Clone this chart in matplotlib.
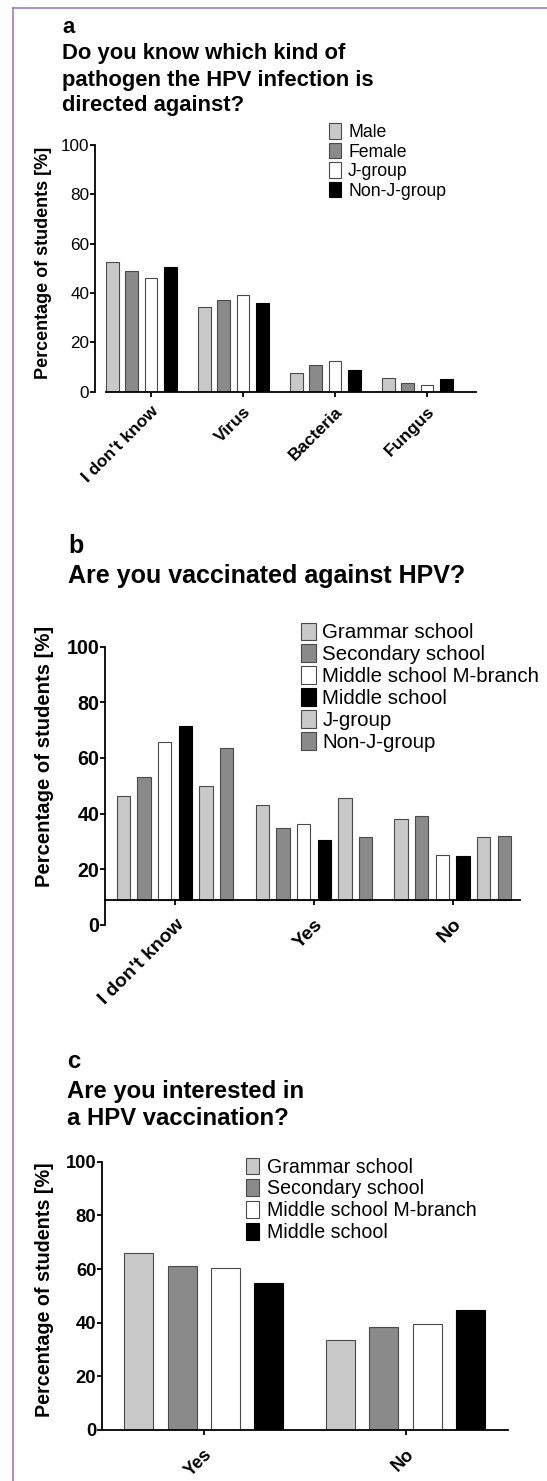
import numpy as np
import matplotlib
matplotlib.use("Agg")
import matplotlib.pyplot as plt
from matplotlib.lines import Line2D

plt.rcParams['font.family'] = ['Liberation Sans', 'DejaVu Sans']

# ---- data (percent of students) ----
a_categories = ["I don't know", "Virus", "Bacteria", "Fungus"]
a_groups = ["Male", "Female", "J-group", "Non-J-group"]
a_male = [52.4, 34.5, 7.7, 5.4]
a_female = [48.8, 37.2, 10.8, 3.4]
a_jgroup = [46.2, 39.2, 12.6, 2.6]
a_nonj = [50.7, 35.8, 8.6, 5.0]

b_categories = ["I don't know", "Yes", "No"]
b_groups = ["Grammar school", "Secondary school", "Middle school M-branch",
            "Middle school", "J-group", "Non-J-group"]
b_grammar = [46.4, 42.9, 37.9]
b_secondary = [53.2, 34.7, 39.0]
b_mbranch = [65.7, 36.1, 25.2]
b_middle = [71.5, 30.5, 24.8]
b_jgroup = [50.0, 45.7, 31.4]
b_nonj = [63.6, 31.4, 32.0]

c_categories = ["Yes", "No"]
c_groups = ["Grammar school", "Secondary school", "Middle school M-branch", "Middle school"]
c_grammar = [65.9, 33.5]
c_secondary = [61.1, 38.5]
c_mbranch = [60.3, 39.5]
c_middle = [54.9, 44.7]

LIGHT = '#c9c9c9'
MID = '#8a8a8a'
EDGE = '#4a4a4a'

W, H = 547, 1481
fig = plt.figure(figsize=(W / 100, H / 100), dpi=100)


def axes_px(left, top, right, bottom):
    return fig.add_axes([left / W, 1 - bottom / H, (right - left) / W, (bottom - top) / H])


def fx(x):
    return x / W


def fy(y):
    return 1 - y / H


def draw_bars(ax, series, labels, colors, step, width, base=0):
    n = len(series)
    x = np.arange(len(series[0]))
    for j, (vals, lab, col) in enumerate(zip(series, labels, colors)):
        off = (j - (n - 1) / 2) * step
        ax.bar(x + off, np.array(vals) - base, width, bottom=base, color=col,
               edgecolor='black' if col == 'black' else EDGE, linewidth=0.8, label=lab)
    return x


def style(ax, fs_tick, fs_x, xpad):
    for s in ['top', 'right']:
        ax.spines[s].set_visible(False)
    for s in ['left', 'bottom']:
        ax.spines[s].set_linewidth(1.3)
    ax.set_ylim(0, 100)
    ax.set_yticks([0, 20, 40, 60, 80, 100])
    ax.tick_params(axis='y', direction='out', length=3.6, width=1.3, pad=0.5,
                   labelsize=fs_tick)
    ax.tick_params(axis='x', direction='out', length=3.6, width=1.3, pad=xpad,
                   labelsize=fs_x)
    for t in ax.get_yticklabels():
        t.set_fontweight('bold')


def xlabels(ax, ticks, cats):
    ax.set_xticks(ticks)
    ax.set_xticklabels(cats, rotation=45, ha='right', rotation_mode='anchor',
                       fontweight='bold')


def legend(ax, x, y, fs, hl, hh, tp, ls):
    ax.legend(loc='upper left', bbox_to_anchor=(fx(x), fy(y)),
              bbox_transform=fig.transFigure, frameon=False, borderpad=0,
              borderaxespad=0, fontsize=fs, handlelength=hl, handleheight=hh,
              handletextpad=tp, labelspacing=ls)


def title(x, baselines, lines, fs):
    for b, t in zip(baselines, lines):
        fig.text(fx(x), fy(b), t, fontsize=fs, fontweight='bold', va='baseline', ha='left')


# ---- panel a ----
ax = axes_px(106, 145, 476, 391.7)
x = draw_bars(ax, [a_male, a_female, a_jgroup, a_nonj], a_groups,
              [LIGHT, MID, 'white', 'black'], 0.211, 0.137)
ax.set_xlim(-0.385, 3.637)
style(ax, 12.3, 12.5, 5)
ax.spines['left'].set_position(('outward', 7.9))
xlabels(ax, x + 0.1, a_categories)
legend(ax, 329, 123.5, 12.7, 0.68, 0.98, 0.4, 0.09)
fig.text(fx(62), fy(33.3), "a", fontsize=15.8, fontweight='bold', va='baseline')
title(62, [59.5, 85.8, 111.5], ["Do you know which kind of",
                                 "pathogen the HPV infection is",
                                 "directed against?"], 15.8)
fig.text(fx(43.5), fy(262.5), "Percentage of students [%]", rotation=90,
         fontsize=13, fontweight='bold', ha='center', va='center')

# ---- panel b ----
ax = axes_px(105, 646.7, 520, 924.7)
x = draw_bars(ax, [b_grammar, b_secondary, b_mbranch, b_middle, b_jgroup, b_nonj],
              b_groups, [LIGHT, MID, 'white', 'black', LIGHT, MID], 0.149, 0.096, base=9)
ax.set_xlim(-0.505, 2.485)
style(ax, 14.2, 14, 8)
ax.spines['bottom'].set_position(('data', 9))
xlabels(ax, x, b_categories)
legend(ax, 300.7, 622.5, 14.8, 0.76, 0.95, 0.3, 0.1)
fig.text(fx(68), fy(553.3), "b", fontsize=18, fontweight='bold', va='baseline')
title(68, [583.3], ["Are you vaccinated against HPV?"], 18)
fig.text(fx(45), fy(756), "Percentage of students [%]", rotation=90,
         fontsize=14.6, fontweight='bold', ha='center', va='center')

# ---- panel c ----
ax = axes_px(102, 1161.7, 508, 1430)
x = draw_bars(ax, [c_grammar, c_secondary, c_mbranch, c_middle], c_groups,
              [LIGHT, MID, 'white', 'black'], 0.2147, 0.1438)
ax.set_xlim(-0.5046, 1.508)
style(ax, 13.2, 13, 7.5)
xlabels(ax, x, c_categories)
legend(ax, 245.7, 1157.5, 14.1, 0.68, 0.95, 0.42, 0.13)
fig.text(fx(67), fy(1068.3), "c", fontsize=17.2, fontweight='bold', va='baseline')
title(67, [1097.7, 1125], ["Are you interested in", "a HPV vaccination?"], 17.2)
fig.text(fx(44.5), fy(1290), "Percentage of students [%]", rotation=90,
         fontsize=14.2, fontweight='bold', ha='center', va='center')

# thin purple frame on the left and top
fig.add_artist(Line2D([fx(13), fx(13)], [0, fy(8)], transform=fig.transFigure,
                      color='#9c6cc4', lw=1.1))
fig.add_artist(Line2D([fx(13), 1], [fy(8), fy(8)], transform=fig.transFigure,
                      color='#9c6cc4', lw=1.1))

fig.savefig('out.png', dpi=100)
